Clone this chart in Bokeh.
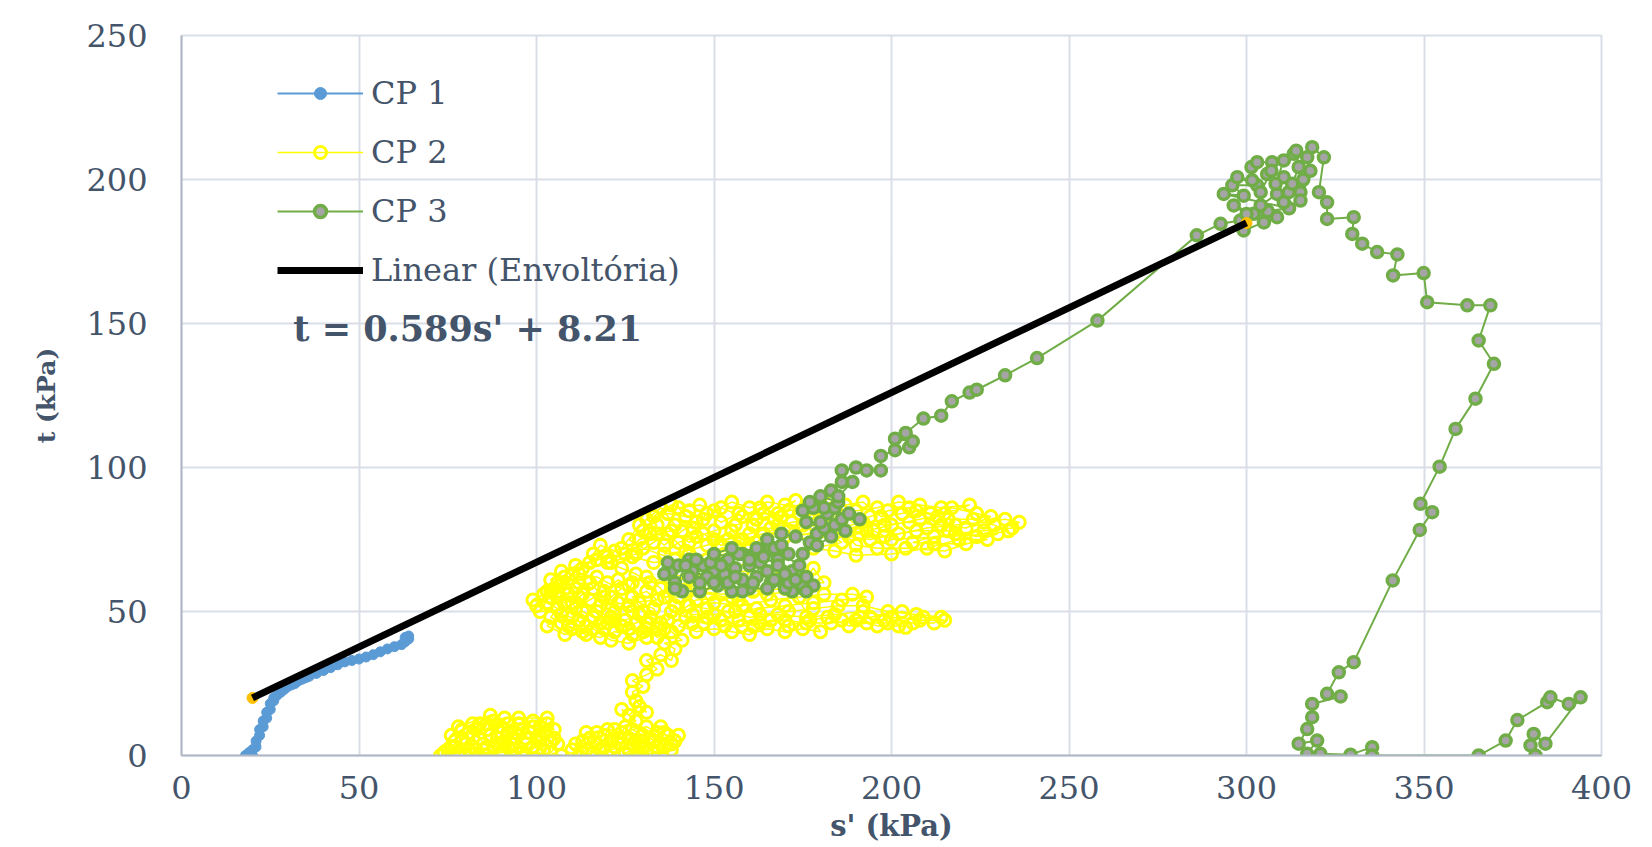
from bokeh.plotting import figure
from bokeh.models import Range1d, FixedTicker, Legend, LegendItem, Label
from bokeh.embed import file_html
from bokeh.resources import INLINE

# ---------------- data ----------------
x_ticks = [0, 50, 100, 150, 200, 250, 300, 350, 400]
y_ticks = [0, 50, 100, 150, 200, 250]

cp1_points = [
    (18, 0), (19, 0), (20, 0), (19, 1), (20, 2), (21, 3), (21, 5), (22, 7), (22, 9), (23, 10),
    (23, 12), (24, 13), (24, 15), (25, 16), (25, 18), (26, 19), (26, 20), (27, 21), (28, 22),
    (29, 23), (30, 24), (31, 24.5), (32, 25), (33, 26), (34, 26.5), (35, 27), (36, 27.5),
    (38, 28.5), (40, 29.5), (42, 30.5), (44, 31.5), (46, 32.5), (48, 33), (50, 33.5), (52, 34.2),
    (54, 35), (56, 36), (58, 37), (60, 37.8), (62, 38.5), (63, 39.5), (64, 40.5), (64, 41.5), (63, 41),
]

cp2_points = [
    # bottom-left cluster
    (73, 0), (75, 2), (78, 1), (80, 4), (77, 5), (82, 3), (84, 6), (81, 8), (86, 9), (88, 12),
    (90, 10), (87, 7), (91, 5), (94, 8), (92, 11), (96, 9), (99, 12), (101, 10), (100, 6), (97, 4),
    (94, 2), (90, 1), (86, 0), (83, 2), (88, 3), (92, 3), (96, 1), (99, 3), (102, 2), (104, 5),
    (102, 8), (105, 9), (103, 11), (106, 4), (104, 1), (107, 0), (76, 3), (79, 6), (83, 9),
    (85, 4), (89, 6), (93, 6), (95, 11), (98, 8), (101, 5), (97, 0), (93, 0), (80, 0), (84, 11),
    (91, 13), (103, 13), (100, 1), (74, 1), (77, 3), (81, 2), (85, 2), (89, 4), (93, 4), (97, 6),
    (101, 7), (105, 6), (99, 10), (95, 13), (90, 8), (86, 11), (82, 11), (79, 9), (76, 7),
    (78, 10), (87, 14), (92, 8),
    # second bottom cluster
    (112, 0), (114, 2), (117, 4), (115, 6), (119, 7), (121, 5), (124, 8), (122, 3), (126, 2),
    (128, 5), (130, 7), (127, 9), (131, 10), (134, 8), (137, 7), (139, 5), (136, 3), (133, 1),
    (129, 0), (125, 1), (130, 3), (135, 4), (132, 6), (110, 2), (113, 5), (118, 2), (120, 9),
    (123, 6), (125, 10), (129, 3), (133, 5), (136, 8), (138, 2), (126, 6), (117, 8), (111, 4),
    (116, 1), (121, 2), (127, 4), (131, 1), (134, 3), (138, 4), (140, 7), (135, 10), (130, 5),
    (124, 4), (119, 3), (114, 8), (122, 9), (128, 12),
    # stem
    (124, 16), (126, 14), (129, 17), (131, 15), (128, 19), (127, 22), (130, 24), (127, 26),
    (131, 28), (134, 30), (131, 33), (135, 35), (138, 33), (139, 37), (136, 39), (141, 40),
    (138, 43), (134, 41),
    # lower band, left blob
    (131, 44), (127, 42), (122, 43), (118, 41), (114, 42), (110, 44), (107, 46), (104, 48),
    (106, 51), (103, 53), (99, 54), (102, 56), (106, 55), (110, 53), (113, 56), (116, 58),
    (112, 60), (108, 62), (112, 63), (117, 62), (120, 60), (124, 58), (121, 55), (118, 52),
    (122, 50), (126, 52), (129, 49), (125, 47), (120, 46), (116, 48), (113, 50), (110, 48),
    (114, 45), (119, 44), (124, 45), (128, 46), (132, 48), (135, 46), (130, 50), (127, 55),
    (131, 57), (134, 54), (101, 50), (105, 58), (109, 56), (111, 51), (115, 54), (119, 57),
    (123, 61), (126, 59), (129, 53), (133, 51), (136, 44), (131, 41), (126, 39), (121, 40),
    (116, 44), (108, 42), (103, 45), (107, 49), (112, 47), (100, 52), (104, 55), (108, 53),
    (112, 55), (117, 50), (121, 48), (126, 44), (130, 43), (134, 44), (131, 46), (127, 50),
    (123, 53), (119, 55), (115, 60), (111, 58), (107, 60), (104, 57), (109, 45), (113, 43),
    (118, 46), (122, 47), (127, 60), (131, 62), (135, 58),
    # lower band, streaks to the right
    (138, 50), (142, 48), (147, 46), (152, 47), (158, 45), (163, 46), (170, 47), (176, 46),
    (183, 46), (190, 47), (196, 45), (202, 45), (204, 44.5), (198, 47), (191, 48), (186, 47),
    (194, 48), (203, 50), (209, 48), (215, 47), (208, 47), (200, 48), (192, 50), (184, 49),
    (176, 48), (168, 49), (160, 48), (154, 50), (148, 51), (143, 52), (150, 53), (158, 52),
    (166, 54), (174, 55), (181, 56), (189, 56), (193, 55), (186, 54), (178, 53), (170, 52),
    (162, 51), (156, 50), (150, 49), (144, 49), (140, 45), (145, 43), (150, 44), (155, 43),
    (160, 42), (165, 44), (170, 43), (175, 44), (180, 43), (172, 57), (165, 56), (155, 55),
    (145, 54), (137, 47), (139, 52), (144, 46), (148, 48), (153, 45), (157, 47), (161, 45),
    (166, 47), (171, 45), (177, 47), (182, 48), (188, 45), (193, 46), (199, 46), (206, 46),
    (212, 46), (214, 48), (207, 49), (199, 50), (192, 52), (185, 52), (178, 51), (171, 50),
    (163, 49), (157, 54), (149, 56), (142, 57), (136, 55),
    # middle
    (140, 55), (138, 58), (142, 60), (146, 57), (152, 56), (161, 57), (170, 58), (176, 62),
    (178, 65), (181, 60), (174, 60), (166, 63), (158, 64), (150, 62), (144, 63), (137, 62),
    (132, 60), (128, 63), (124, 65), (120, 67), (116, 70), (118, 73), (122, 71), (127, 69),
    (133, 67), (139, 68),
    # upper band
    (130, 72), (126, 75), (130, 78), (134, 80), (131, 82), (137, 84), (142, 83), (140, 86),
    (146, 87), (150, 85), (155, 88), (160, 86), (165, 88), (170, 87), (173, 88.5), (168, 84),
    (162, 82), (156, 80), (150, 78), (145, 76), (140, 74), (136, 70), (142, 71), (148, 73),
    (154, 75), (160, 77), (166, 79), (172, 81), (178, 82), (184, 83), (190, 85), (196, 86),
    (202, 88), (208, 87), (214, 86), (222, 87), (215, 84), (208, 82), (200, 80), (193, 78),
    (188, 76), (194, 75), (202, 77), (210, 79), (218, 80), (226, 81), (232, 82), (236, 81),
    (234, 79), (226, 78), (218, 77), (212, 76), (206, 74), (212, 73.5), (221, 73.5), (227, 75),
    (219, 75), (210, 72), (200, 70), (190, 69.5), (184, 71), (178, 72), (186, 74), (181, 78),
    (176, 77), (170, 76), (175, 80), (168, 80), (162, 74), (157, 72), (153, 70), (148, 68),
    (143, 70), (137, 77), (133, 74), (128, 70), (121, 67), (113, 65), (107, 64), (104, 61),
    (108, 58), (103, 57), (106, 60), (111, 66), (117, 68), (124, 72), (129, 80), (135, 86),
    (139, 80), (144, 79), (148, 84), (152, 81), (157, 84), (161, 80), (164, 84), (169, 83),
    (174, 84), (179, 86), (183, 88), (187, 87), (192, 88), (197, 83), (203, 84), (207, 85),
    (213, 83), (217, 86), (224, 84), (228, 83), (221, 79), (214, 80), (205, 81), (198, 80),
    (192, 81), (185, 79), (190, 73), (196, 72), (204, 72), (215, 71), (230, 77), (200, 75),
    (195, 78), (150, 75), (155, 78), (160, 73), (165, 73), (132, 77), (136, 73), (141, 78),
    (145, 81), (133, 83), (138, 87), (143, 85), (147, 82), (152, 86), (158, 83), (163, 86),
    (167, 82), (171, 85), (176, 86), (181, 84), (186, 85), (189, 81), (194, 83), (199, 85),
    (205, 86), (211, 84), (216, 82), (223, 82), (229, 80), (233, 78), (224, 76), (216, 78),
    (207, 78), (198, 76), (191, 77), (183, 80), (177, 84), (171, 78), (164, 77), (158, 75),
    (152, 73), (147, 77), (143, 74), (138, 78), (134, 77), (129, 75), (125, 70), (120, 69),
    (115, 67), (110, 63), (106, 57),
]

cp3_points = [
    # lower cluster
    (175, 58), (172, 57), (170, 58), (166, 60), (165, 58), (160, 58), (158, 57), (155, 57),
    (151, 59), (146, 57), (141, 57), (139, 60), (138, 64), (137, 67), (140, 66), (143, 68),
    (147, 66), (150, 64), (148, 62), (144, 64), (143, 62), (146, 60), (150, 60), (153, 63),
    (156, 65), (158, 61), (162, 62), (160, 66), (163, 67), (165, 64), (167, 61), (171, 60),
    (175, 59), (178, 59), (176, 62), (172, 64), (168, 68), (165, 71), (163, 71), (158, 70),
    (154, 68), (157, 70), (162, 72), (136, 63), (139, 58), (142, 66), (145, 68), (149, 67),
    (152, 66), (154, 60), (156, 62), (161, 60), (164, 69), (168, 66), (170, 63), (173, 61),
    (176, 57), (174, 66), (167, 72), (171, 70), (155, 72), (150, 70), (160, 68), (165, 75),
    (169, 73), (169, 77), (173, 76), (177, 74), (175, 70), (179, 73), (183, 76), (179, 77),
    (181, 79), (176, 81), (180, 81), (184, 80), (187, 78), (186, 82), (191, 82), (188, 84),
    (182, 84), (184, 86), (181, 86), (178, 86), (175, 85), (177, 88), (180, 90), (185, 88),
    (183, 92), (185, 90), (189, 95), (186, 95), (186, 99), (190, 100), (193, 99), (197, 99),
    (197, 104), (201, 106), (205, 107), (206, 109), (201, 110), (204, 112), (209, 117),
    (214, 118), (217, 123), (222, 126), (224, 127), (232, 132), (241, 138), (258, 151),
    # peak cluster
    (286, 180.6), (292.7, 184.6), (298.3, 185.8), (299.2, 182.3), (304.9, 185.1), (308.6, 186.9),
    (302, 188.1), (296.4, 191), (300, 188), (306, 189), (312, 190), (293.6, 195), (299.2, 194.4),
    (296, 198), (303, 198), (297.4, 200.8), (301.6, 199.7), (301.4, 204.3), (303, 206),
    (307.2, 206), (305.8, 201.9), (307, 203), (304, 195.6), (304, 191), (308.6, 195),
    (310.5, 192.1), (311.9, 195.6), (310.5, 200.8), (308.2, 198.5), (310.5, 206.6),
    (313.3, 208.9), (314, 210), (314.7, 204.3), (312.9, 198.5), (315.2, 195.6), (316, 200),
    (315.2, 192.7), (318, 203), (317.1, 207.7), (318.5, 211.2), (321.8, 207.7), (320.4, 195.6),
    (322.7, 192.1), (322.7, 186.3),
    # descent
    (330.2, 186.9), (329.8, 181.1), (332.6, 177.7), (336.8, 174.8), (342.5, 174), (341.3, 166.7),
    (349.9, 167.5), (350.9, 157.4), (362.2, 156.3), (368.7, 156.3), (365.4, 144.1), (369.7, 136),
    (364.5, 123.9), (358.9, 113.4), (354.4, 100.3), (349, 87.4), (352.3, 84.5), (348.8, 78.3),
    (341.2, 60.8), (330.2, 32.4), (326, 28.9), (322.7, 21.4), (326.5, 20.5), (318.5, 17.9),
    (318.5, 13.3), (317.1, 9.2), (314.7, 4.1), (319.9, 5.2), (317.1, 0.6), (320.8, 0.6),
    (329.3, 0.3), (335.4, 2.9), (335.4, 0),
    # bottom right
    (365.4, 0), (373, 5.2), (376.3, 12.3), (384.7, 18.5), (385.6, 20.2), (390.8, 17.9),
    (394.1, 20.2), (384.2, 4.1), (380.9, 7.5), (380, 3.5), (381.4, 0),
]

env_s = [20, 300]
env_slope = 0.589
env_intercept = 8.21

# ---------------- styles ----------------
TEXT = "#44546A"
GRID = "#D9DEE7"
AXIS = "#B0B8C6"
FONT = "DejaVu Serif"

cp1_s = [a for a, b in cp1_points]
cp1_t = [b for a, b in cp1_points]
cp2_s = [a for a, b in cp2_points]
cp2_t = [b for a, b in cp2_points]
cp3_s = [a for a, b in cp3_points]
cp3_t = [b for a, b in cp3_points]
env_t = [env_slope * s + env_intercept for s in env_s]

p = figure(width=1652, height=847, output_backend="svg", toolbar_location=None,
           x_range=Range1d(0, 400), y_range=Range1d(0, 250),
           min_border_left=181, min_border_right=51, min_border_top=35, min_border_bottom=92)
p.outline_line_color = GRID
p.outline_line_width = 2

for ax, ticks in ((p.xaxis, x_ticks), (p.yaxis, y_ticks)):
    ax.ticker = FixedTicker(ticks=ticks)
    ax.major_tick_line_color = None
    ax.minor_tick_line_color = None
    ax.axis_line_color = AXIS
    ax.axis_line_width = 2
    ax.major_label_text_font = FONT
    ax.major_label_text_font_size = "32px"
    ax.major_label_text_color = TEXT
    ax.axis_label_text_font = FONT
    ax.axis_label_text_font_style = "bold"
    ax.axis_label_text_color = TEXT

p.xaxis.axis_label = "s' (kPa)"
p.yaxis.axis_label = "t (kPa)"
p.xaxis.major_label_standoff = 14
p.yaxis.major_label_standoff = 28
p.xaxis.axis_label_standoff = 7
p.yaxis.axis_label_standoff = 22
p.xaxis.axis_label_text_font_size = "29px"
p.yaxis.axis_label_text_font_size = "25px"

p.xgrid.ticker = FixedTicker(ticks=x_ticks)
p.ygrid.ticker = FixedTicker(ticks=y_ticks)
p.grid.grid_line_color = GRID
p.grid.grid_line_width = 2

# CP1
l1 = p.line(cp1_s, cp1_t, line_color="#5B9BD5", line_width=2)
m1 = p.scatter(cp1_s, cp1_t, marker="circle", size=10, fill_color="#5B9BD5", line_color="#5B9BD5")
# CP2
l2 = p.line(cp2_s, cp2_t, line_color="#FFFF00", line_width=1.5)
m2 = p.scatter(cp2_s, cp2_t, marker="circle", size=12, fill_color=None, line_color="#FFFF00", line_width=3)
# CP3
l3 = p.line(cp3_s, cp3_t, line_color="#70AD47", line_width=2)
m3 = p.scatter(cp3_s, cp3_t, marker="circle", size=11, fill_color="#A5A5A5", line_color="#70AD47", line_width=3.5)
# envelope
p.scatter(env_s, env_t, marker="circle", size=11, fill_color="#FFC000", line_color="#FFC000")
l4 = p.line(env_s, env_t, line_color="black", line_width=7)

legend = Legend(items=[
    LegendItem(label="CP 1", renderers=[l1, m1]),
    LegendItem(label="CP 2", renderers=[l2, m2]),
    LegendItem(label="CP 3", renderers=[l3, m3]),
    LegendItem(label="Linear (Envoltória)", renderers=[l4]),
], location=(96, 466))
legend.glyph_width = 86
legend.glyph_height = 30
legend.label_height = 30
legend.spacing = 21
legend.padding = 0
legend.margin = 0
legend.label_standoff = 8
legend.border_line_color = None
legend.background_fill_alpha = 0
legend.label_text_font = FONT
legend.label_text_font_size = "32px"
legend.label_text_color = TEXT
p.add_layout(legend)

eq = Label(x=31.5, y=148.3, text="t = 0.589s' + 8.21", text_font=FONT,
           text_font_size="35px", text_font_style="bold", text_color=TEXT,
           text_baseline="middle", text_align="left")
p.add_layout(eq)

open("out.html", "w").write(file_html(p, INLINE))
